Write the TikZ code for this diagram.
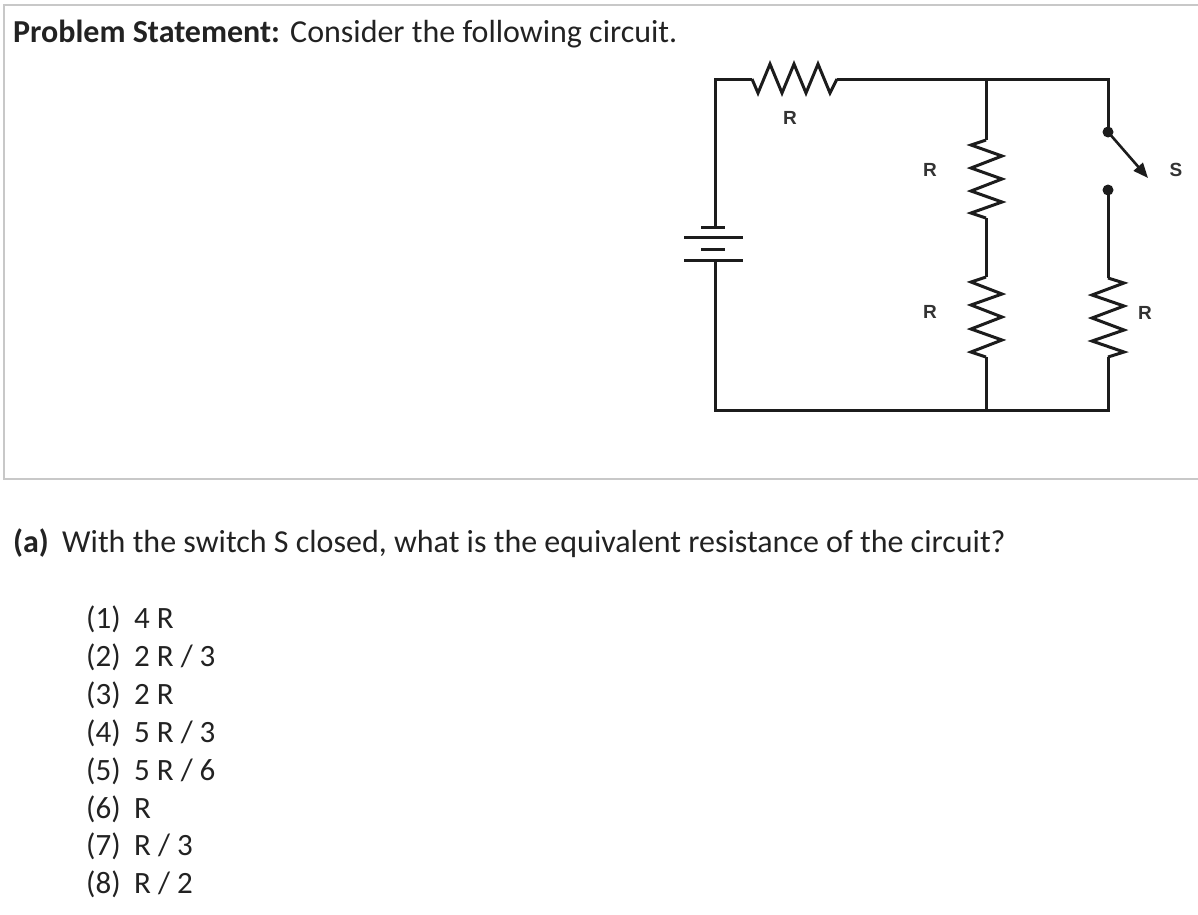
\documentclass[tikz,border=0pt]{standalone}
\usepackage{fontspec}
\setmainfont{Carlito}
\newfontfamily\lblfont{Liberation Sans}
\usetikzlibrary{arrows.meta}
\definecolor{wirec}{HTML}{1C1C1C}
\definecolor{boxc}{HTML}{C8C8C8}
\definecolor{txtc}{HTML}{222222}
\definecolor{lblc}{HTML}{333333}
\tikzset{
  wire/.style={draw=wirec, line width=3pt, line join=miter, line cap=butt},
  plate/.style={draw=wirec, line width=3pt},
  termdot/.style={circle, fill=wirec, inner sep=0pt, minimum size=11pt},
  clabel/.style={font=\lblfont\bfseries\fontsize{19}{22}\selectfont, text=lblc, inner sep=0pt},
  bigtext/.style={font=\fontsize{32}{38}\selectfont, text=txtc, anchor=base west, inner sep=0pt},
  choice/.style={font=\fontsize{31}{36}\selectfont, text=txtc, anchor=base west, inner sep=0pt},
  frame/.style={draw=boxc, line width=2.5pt}
}
\begin{document}
\begin{tikzpicture}[x=1pt, y=-1pt]
\useasboundingbox (0,0) rectangle (1198,914);
% frame
\draw[frame] (1198,5) -- (4,5) -- (4,479) -- (1198,479);
% texts
\node[bigtext] (title) at (13,42) {\makebox[277pt][l]{\bfseries Problem Statement:}Consider the following circuit.};
\node[bigtext] (qa) at (13,552) {\makebox[49pt][l]{\bfseries (a)}With the switch S closed, what is the equivalent resistance of the circuit?};
\node[choice] (c1) at (86,628) {\makebox[48pt][l]{(1)}4 R};
\node[choice] (c2) at (86,666) {\makebox[48pt][l]{(2)}2 R / 3};
\node[choice] (c3) at (86,704) {\makebox[48pt][l]{(3)}2 R};
\node[choice] (c4) at (86,742) {\makebox[48pt][l]{(4)}5 R / 3};
\node[choice] (c5) at (86,780) {\makebox[48pt][l]{(5)}5 R / 6};
\node[choice] (c6) at (86,818) {\makebox[48pt][l]{(6)}R};
\node[choice] (c7) at (86,855) {\makebox[48pt][l]{(7)}R / 3};
\node[choice] (c8) at (86,893) {\makebox[48pt][l]{(8)}R / 2};
% circuit coordinates
\coordinate (tl) at (715,79);
\coordinate (r1a) at (752,79);
\coordinate (r1b) at (837,79);
\coordinate (tm) at (986,79);
\coordinate (tr) at (1108,79);
\coordinate (r2a) at (986,140);
\coordinate (r2b) at (986,218);
\coordinate (r3a) at (986,277);
\coordinate (r3b) at (986,357);
\coordinate (r4a) at (1108,278);
\coordinate (r4b) at (1108,357);
\coordinate (bl) at (715,410);
\coordinate (bm) at (986,410);
\coordinate (br) at (1108,410);
\coordinate (bt) at (715,227);
\coordinate (bb) at (715,260);
\node[termdot] (s1) at (1108,132) {};
\node[termdot] (s2) at (1108,190) {};
\coordinate (stip) at (1148,178);
% wires
\draw[wire] (bt) -- (tl) -- (r1a);
\draw[wire] (r1b) -- (tr) -- (s1.center);
\draw[wire] (tm) -- (r2a);
\draw[wire] (r2b) -- (r3a);
\draw[wire] (r3b) -- (bm);
\draw[wire] (s2.center) -- (r4a);
\draw[wire] (r4b) -- (br) -- (bl) -- (bb);
% resistors
\draw[wire] (r1a) -- (758,93) -- (770,64) -- (782,93) -- (794,64) -- (806,93) -- (818,64) -- (830,93) -- (r1b);
\draw[wire] (r2a) -- (971,145) -- (1002,156) -- (971,168) -- (1002,179) -- (971,191) -- (1002,202) -- (971,213) -- (r2b);
\draw[wire] (r3a) -- (971,282) -- (1002,294) -- (971,305) -- (1002,317) -- (971,329) -- (1002,340) -- (971,352) -- (r3b);
\draw[wire] (r4a) -- (1124,283) -- (1092,295) -- (1124,306) -- (1092,318) -- (1124,330) -- (1092,341) -- (1124,352) -- (r4b);
% battery
\draw[plate] (701,227) -- (725,227);
\draw[plate] (684,237) -- (743,237);
\draw[plate] (701,249) -- (725,249);
\draw[plate] (684,260) -- (743,260);
% switch
\draw[draw=wirec, line width=2.6pt, -{Triangle[length=15pt,width=12pt]}] (s1.center) -- (stip);
% labels
\node[clabel] (lr1) at (790,118) {R};
\node[clabel] (lr2) at (930,170) {R};
\node[clabel] (lr3) at (930,312) {R};
\node[clabel] (lr4) at (1145,313) {R};
\node[clabel] (ls) at (1176,170) {S};
\end{tikzpicture}
\end{document}
